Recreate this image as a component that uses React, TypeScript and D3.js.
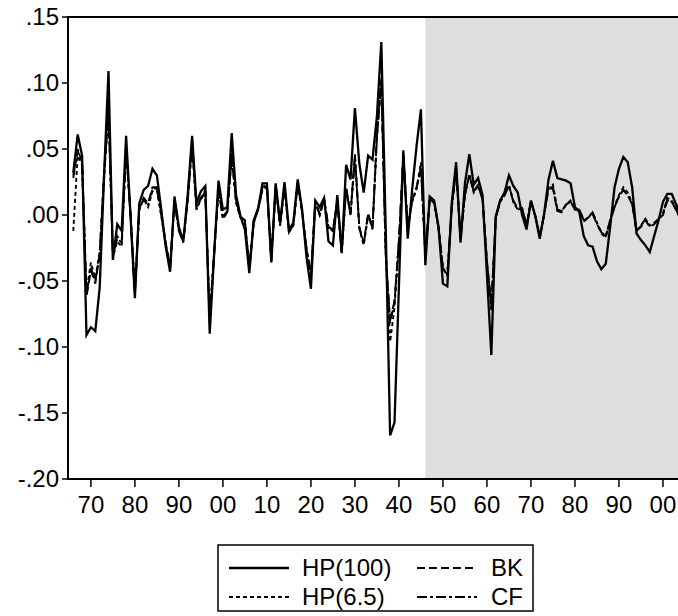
import React from 'react';
import * as d3 from 'd3';

const START_YEAR = 1866;

const hp100 = [
  0.032, 0.061, 0.045, -0.091,
  -0.085, -0.088, -0.055, 0.030, 0.109, -0.034, -0.007, -0.012, 0.060, 0.000,
  -0.063, 0.009, 0.019, 0.022, 0.035, 0.030, 0.004, -0.024, -0.043, 0.014,
  -0.009, -0.020, 0.015, 0.060, 0.009, 0.018, 0.022, -0.090, -0.030, 0.026,
  0.004, 0.006, 0.062, 0.015, -0.001, -0.011, -0.044, -0.004, 0.005, 0.024,
  0.024, -0.036, 0.024, -0.006, 0.025, -0.011, -0.006, 0.027, 0.004, -0.032,
  -0.056, 0.011, 0.006, 0.013, -0.020, -0.023, 0.015, -0.029, 0.038, 0.027,
  0.081, 0.039, 0.017, 0.045, 0.042, 0.075, 0.131, -0.010, -0.167, -0.157,
  -0.054, 0.049, -0.018, 0.019, 0.052, 0.080, -0.038, 0.014, 0.011, -0.009,
  -0.052, -0.054, 0.009, 0.040, -0.021, 0.024, 0.046, 0.023, 0.028, 0.015,
  -0.045, -0.106, -0.001, 0.011, 0.017, 0.030, 0.022, 0.017, 0.000, -0.011,
  0.011, -0.001, -0.018, 0.001, 0.027, 0.041, 0.028, 0.027, 0.026, 0.024,
  0.006, 0.002, -0.016, -0.023, -0.024, -0.035, -0.041, -0.037, -0.009, 0.021,
  0.035, 0.044, 0.040, 0.021, -0.014, -0.019, -0.023, -0.028, -0.016, -0.004,
  0.010, 0.016, 0.016, 0.008, 0.000,
];

const hp65 = [
  -0.012, 0.045, 0.038, -0.058,
  -0.036, -0.048, -0.028, 0.032, 0.078, -0.032, -0.020, -0.024, 0.048, 0.002,
  -0.058, 0.004, 0.012, 0.006, 0.018, 0.019, -0.001, -0.022, -0.038, 0.010,
  -0.012, -0.019, 0.010, 0.052, 0.004, 0.012, 0.017, -0.076, -0.028, 0.019,
  -0.003, 0.002, 0.043, 0.009, -0.002, -0.005, -0.039, -0.006, 0.004, 0.019,
  0.021, -0.033, 0.021, -0.008, 0.021, -0.013, -0.008, 0.023, 0.002, -0.025,
  -0.045, 0.009, 0.000, 0.011, -0.010, -0.012, 0.010, -0.027, 0.019, 0.000,
  0.044, -0.010, -0.023, 0.000, -0.011, 0.058, 0.104, -0.032, -0.096, -0.070,
  -0.022, 0.044, -0.010, 0.010, 0.020, 0.040, -0.031, 0.012, 0.009, -0.010,
  -0.040, -0.046, 0.005, 0.035, -0.018, 0.015, 0.031, 0.017, 0.022, 0.012,
  -0.036, -0.072, -0.002, 0.010, 0.015, 0.023, 0.010, 0.004, 0.005, -0.008,
  0.010, -0.001, -0.016, 0.000, 0.021, 0.023, 0.004, 0.003, 0.008, 0.011,
  0.005, 0.004, -0.004, -0.002, 0.002, -0.006, -0.014, -0.017, -0.004, 0.007,
  0.015, 0.021, 0.017, 0.009, -0.012, -0.008, -0.003, -0.008, -0.006, -0.003,
  0.001, 0.013, 0.011, 0.004, -0.003,
];

const bk = [
  0.028, 0.050, 0.040, -0.062,
  -0.042, -0.052, -0.030, 0.030, 0.082, -0.028, -0.016, -0.020, 0.051, 0.000,
  -0.060, 0.006, 0.013, 0.009, 0.021, 0.021, 0.001, -0.021, -0.041, 0.011,
  -0.011, -0.020, 0.013, 0.056, 0.006, 0.013, 0.019, -0.082, -0.031, 0.021,
  -0.001, 0.003, 0.047, 0.011, -0.001, -0.004, -0.041, -0.005, 0.005, 0.021,
  0.023, -0.035, 0.023, -0.007, 0.023, -0.012, -0.007, 0.025, 0.003, -0.027,
  -0.047, 0.010, 0.001, 0.012, -0.009, -0.011, 0.011, -0.028, 0.021, 0.001,
  0.046, -0.009, -0.021, 0.001, -0.009, 0.061, 0.102, -0.029, -0.082, -0.066,
  -0.019, 0.046, -0.009, 0.011, 0.021, 0.036, -0.030, 0.013, 0.010, -0.009,
  -0.041, -0.045, 0.006, 0.036, -0.017, 0.016, 0.030, 0.018, 0.023, 0.013,
  -0.035, -0.068, -0.002, 0.011, 0.016, 0.022, 0.011, 0.005, 0.005, -0.008,
  0.011, -0.001, -0.016, 0.000, 0.020, 0.020, 0.003, 0.002, 0.008, 0.010,
  0.004, 0.004, -0.005, -0.002, 0.001, -0.007, -0.013, -0.016, -0.005, 0.006,
  0.014, 0.019, 0.015, 0.008, -0.012, -0.009, -0.004, -0.009, -0.007, -0.003,
  0.000, 0.011, 0.010, 0.004, -0.004,
];

const cf = [
  0.030, 0.048, 0.042, -0.060,
  -0.040, -0.050, -0.030, 0.028, 0.080, -0.030, -0.018, -0.021, 0.050, 0.001,
  -0.059, 0.005, 0.012, 0.008, 0.020, 0.020, 0.000, -0.022, -0.040, 0.010,
  -0.012, -0.021, 0.012, 0.055, 0.005, 0.012, 0.018, -0.080, -0.029, 0.020,
  -0.002, 0.002, 0.045, 0.010, -0.002, -0.004, -0.040, -0.006, 0.004, 0.020,
  0.022, -0.034, 0.022, -0.008, 0.022, -0.013, -0.008, 0.024, 0.002, -0.026,
  -0.046, 0.010, 0.000, 0.012, -0.010, -0.012, 0.010, -0.028, 0.020, 0.000,
  0.045, -0.010, -0.022, 0.000, -0.010, 0.060, 0.100, -0.030, -0.080, -0.065,
  -0.020, 0.045, -0.010, 0.010, 0.020, 0.035, -0.030, 0.012, 0.010, -0.010,
  -0.040, -0.045, 0.005, 0.035, -0.018, 0.015, 0.030, 0.018, 0.022, 0.012,
  -0.035, -0.070, -0.002, 0.010, 0.015, 0.022, 0.010, 0.004, 0.005, -0.008,
  0.010, -0.001, -0.016, 0.000, 0.021, 0.021, 0.004, 0.003, 0.008, 0.010,
  0.005, 0.004, -0.004, -0.002, 0.002, -0.006, -0.013, -0.016, -0.004, 0.006,
  0.014, 0.019, 0.015, 0.009, -0.012, -0.008, -0.003, -0.008, -0.006, -0.003,
  0.001, 0.012, 0.010, 0.004, -0.003,
];

const yTicks = [0.15, 0.10, 0.05, 0.0, -0.05, -0.10, -0.15, -0.20];
const yTickLabels = ['.15', '.10', '.05', '.00', '-.05', '-.10', '-.15', '-.20'];
const xTicks = [1870, 1880, 1890, 1900, 1910, 1920, 1930, 1940, 1950, 1960, 1970, 1980, 1990, 2000];
const xTickLabels = ['70', '80', '90', '00', '10', '20', '30', '40', '50', '60', '70', '80', '90', '00'];
const shadeStartYear = 1946;

const seriesNames = ['HP(100)', 'HP(6.5)', 'BK', 'CF'];
const seriesData = [hp100, hp65, bk, cf];
const seriesDash = ['', '4,3', '8,4', '10,3,3,3'];

const W = 678;
const H = 616;
const L = 68, T = 17, R = 681, B = 479;
const FONT = '"Liberation Sans", Arial, sans-serif';

export default function App() {
  const x = d3.scaleLinear().domain([1864.8, 2004.1]).range([L, R]);
  const y = d3.scaleLinear().domain([-0.2, 0.15]).range([B, T]);
  const line = d3
    .line<number>()
    .x((_, i) => x(START_YEAR + i))
    .y((d) => y(d));

  const legendRows = [
    [0, 2],
    [1, 3],
  ];
  const legX = [229, 417];
  const legTextX = [302, 491];
  const legY = [568, 597];

  return (
    <div style={{ position: 'fixed', left: 0, top: 0 }}>
      <svg width={W} height={H} style={{ display: 'block', background: '#fff' }}>
        <defs>
          <clipPath id="plotclip">
            <rect x={L} y={T} width={R - L} height={B - T} />
          </clipPath>
        </defs>
        <rect
          x={x(shadeStartYear)}
          y={T}
          width={R - x(shadeStartYear)}
          height={B - T}
          fill="#dedede"
        />
        <g clipPath="url(#plotclip)">
          {seriesData.map((s, k) => (
            <path
              key={seriesNames[k]}
              d={line(s) || ''}
              fill="none"
              stroke="#000"
              strokeWidth={k === 0 ? 2.3 : 1.9}
              strokeDasharray={seriesDash[k] || undefined}
              strokeLinejoin="miter"
            />
          ))}
        </g>
        <rect x={L} y={T} width={R - L} height={B - T} fill="none" stroke="#000" strokeWidth={2} />
        {yTicks.map((t, i) => (
          <g key={'y' + i}>
            <line x1={L - 6} x2={L} y1={y(t)} y2={y(t)} stroke="#000" strokeWidth={1.5} />
            <text
              x={L - 9}
              y={y(t)}
              dy="0.35em"
              textAnchor="end"
              fontFamily={FONT}
              fontSize={24}
              fill="#000"
            >
              {yTickLabels[i]}
            </text>
          </g>
        ))}
        {xTicks.map((t, i) => (
          <g key={'x' + i}>
            <line x1={x(t)} x2={x(t)} y1={B} y2={B + 8} stroke="#000" strokeWidth={1.5} />
            <text
              x={x(t)}
              y={B + 34}
              textAnchor="middle"
              fontFamily={FONT}
              fontSize={24}
              fill="#000"
            >
              {xTickLabels[i]}
            </text>
          </g>
        ))}
        <rect x={218} y={545} width={315} height={66} fill="#fff" stroke="#000" strokeWidth={1.5} />
        {legendRows.map((row, ri) =>
          row.map((k, ci) => (
            <g key={'leg' + k}>
              <line
                x1={legX[ci]}
                x2={legX[ci] + 60}
                y1={legY[ri]}
                y2={legY[ri]}
                stroke="#000"
                strokeWidth={k === 0 ? 2.3 : 1.9}
                strokeDasharray={seriesDash[k] || undefined}
              />
              <text
                x={legTextX[ci]}
                y={legY[ri]}
                dy="0.35em"
                fontFamily={FONT}
                fontSize={24}
                fill="#000"
              >
                {seriesNames[k]}
              </text>
            </g>
          ))
        )}
      </svg>
    </div>
  );
}
